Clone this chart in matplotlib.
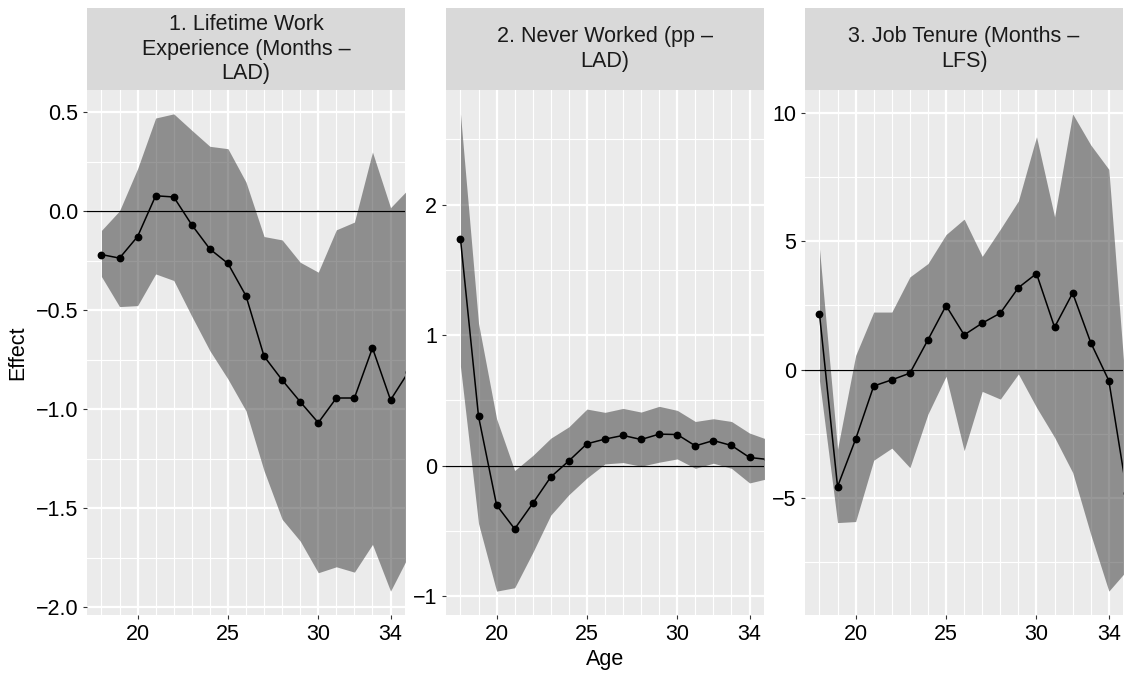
import numpy as np
import matplotlib
matplotlib.use("Agg")
import matplotlib.pyplot as plt
from matplotlib.ticker import FixedLocator, FuncFormatter

plt.rcParams['font.family'] = ['Liberation Sans', 'DejaVu Sans']
plt.rcParams['axes.unicode_minus'] = True

# ---- data -------------------------------------------------------------
ages = [18, 19, 20, 21, 22, 23, 24, 25, 26, 27, 28, 29, 30, 31, 32, 33, 34, 35]

panel_titles = [
    "1. Lifetime Work\nExperience (Months \u2013\nLAD)",
    "2. Never Worked (pp \u2013\nLAD)",
    "3. Job Tenure (Months \u2013\nLFS)",
]

exp_est = [-0.218, -0.236, -0.127, 0.079, 0.073, -0.068, -0.190, -0.263, -0.427,
           -0.732, -0.852, -0.962, -1.068, -0.943, -0.943, -0.690, -0.953, -0.81]
exp_hi = [-0.096, 0.003, 0.216, 0.472, 0.493, 0.410, 0.329, 0.317, 0.148,
          -0.127, -0.144, -0.257, -0.307, -0.093, -0.054, 0.300, 0.019, 0.114]
exp_lo = [-0.329, -0.481, -0.476, -0.316, -0.349, -0.530, -0.704, -0.847, -1.008,
          -1.311, -1.556, -1.666, -1.826, -1.796, -1.823, -1.683, -1.919, -1.74]

nw_est = [1.738, 0.377, -0.303, -0.485, -0.290, -0.087, 0.036, 0.167, 0.203,
          0.231, 0.200, 0.241, 0.238, 0.151, 0.192, 0.154, 0.062, 0.047]
nw_hi = [2.695, 1.09, 0.359, -0.038, 0.077, 0.210, 0.297, 0.433, 0.408,
         0.438, 0.410, 0.454, 0.423, 0.338, 0.359, 0.338, 0.249, 0.20]
nw_lo = [0.760, -0.444, -0.962, -0.936, -0.667, -0.379, -0.223, -0.095, 0.013,
         0.023, -0.005, 0.026, 0.051, -0.021, 0.018, -0.021, -0.133, -0.10]

ten_est = [2.17, -4.56, -2.71, -0.64, -0.40, -0.14, 1.16, 2.49, 1.35,
           1.81, 2.20, 3.19, 3.74, 1.65, 2.98, 1.05, -0.43, -4.8]
ten_hi = [4.71, -3.10, 0.55, 2.24, 2.24, 3.61, 4.13, 5.26, 5.86,
          4.41, 5.47, 6.57, 9.07, 5.95, 9.96, 8.75, 7.80, -1.35]
ten_lo = [-0.43, -5.96, -5.92, -3.53, -3.06, -3.82, -1.73, -0.26, -3.16,
          -0.85, -1.15, -0.17, -1.47, -2.64, -4.01, -6.42, -8.63, -7.82]

x_breaks = [20, 25, 30, 34]
x_minor = [a for a in range(18, 35) if a not in x_breaks]

y_majors = [
    [-2.0, -1.5, -1.0, -0.5, 0.0, 0.5],
    [-1, 0, 1, 2],
    [-5, 0, 5, 10],
]
y_minors = [
    [-1.75, -1.25, -0.75, -0.25, 0.25],
    [-0.5, 0.5, 1.5, 2.5],
    [-7.5, -2.5, 2.5, 7.5],
]
y_fmt = ["{:.1f}", "{:.0f}", "{:.0f}"]

series = [
    (exp_est, exp_lo, exp_hi),
    (nw_est, nw_lo, nw_hi),
    (ten_est, ten_lo, ten_hi),
]


def expanded(lo, hi, mult=0.05):
    r = hi - lo
    return lo - mult * r, hi + mult * r


# ---- layout (pixels) ----------------------------------------------------
W, H = 1127, 673
fig = plt.figure(figsize=(W / 100, H / 100), dpi=100)
fig.patch.set_facecolor('white')

panel_lr = [(87, 405), (446, 764), (805, 1123.3)]
panel_top, panel_bot = 90, 615
strip_top = 8

FS = 15.5

for i, (l, r) in enumerate(panel_lr):
    ax = fig.add_axes([l / W, (H - panel_bot) / H, (r - l) / W, (panel_bot - panel_top) / H])
    ax.set_facecolor('#EBEBEB')
    est, lo, hi = series[i]

    ax.fill_between(ages, lo, hi, color='#333333', alpha=0.5, lw=0, zorder=2)
    ax.axhline(0, color='black', lw=0.9, zorder=3)
    ax.plot(ages, est, color='black', lw=1.1, zorder=4)
    ax.plot(ages, est, 'o', color='black', ms=4.6, zorder=5)

    ax.set_xlim(*expanded(18, 34))
    ax.set_ylim(*expanded(min(lo[:17]), max(hi[:17])))

    ax.xaxis.set_major_locator(FixedLocator(x_breaks))
    ax.xaxis.set_minor_locator(FixedLocator(x_minor))
    ax.yaxis.set_major_locator(FixedLocator(y_majors[i]))
    ax.yaxis.set_minor_locator(FixedLocator(y_minors[i]))
    fmt = y_fmt[i]
    ax.yaxis.set_major_formatter(FuncFormatter(
        lambda v, p, f=fmt: f.format(v).replace('-', '\u2212')))

    ax.grid(which='major', color='white', lw=1.6, zorder=0)
    ax.grid(which='minor', color='white', lw=0.8, zorder=0)
    ax.set_axisbelow(True)
    for s in ax.spines.values():
        s.set_visible(False)
    ax.tick_params(which='major', length=3.2, width=0.8, color='#333333',
                   labelsize=FS, labelcolor='black', pad=3.2)
    ax.tick_params(which='minor', length=0)

    # facet strip
    sax = fig.add_axes([l / W, (H - panel_top) / H, (r - l) / W, (panel_top - strip_top) / H])
    sax.set_facecolor('#D9D9D9')
    sax.set_xticks([])
    sax.set_yticks([])
    for s in sax.spines.values():
        s.set_visible(False)
    sax.text(0.5, 0.5, panel_titles[i], ha='center', va='center', fontsize=FS,
             color='#1A1A1A', linespacing=1.22, transform=sax.transAxes)

fig.text(18 / W, 1 - ((panel_top + panel_bot) / 2) / H, "Effect", rotation=90,
         ha='center', va='center', fontsize=FS, color='black')
fig.text(((87 + 1123.3) / 2) / W, 1 - 660 / H, "Age", ha='center', va='center',
         fontsize=FS, color='black')

fig.savefig("out.png", dpi=100)
